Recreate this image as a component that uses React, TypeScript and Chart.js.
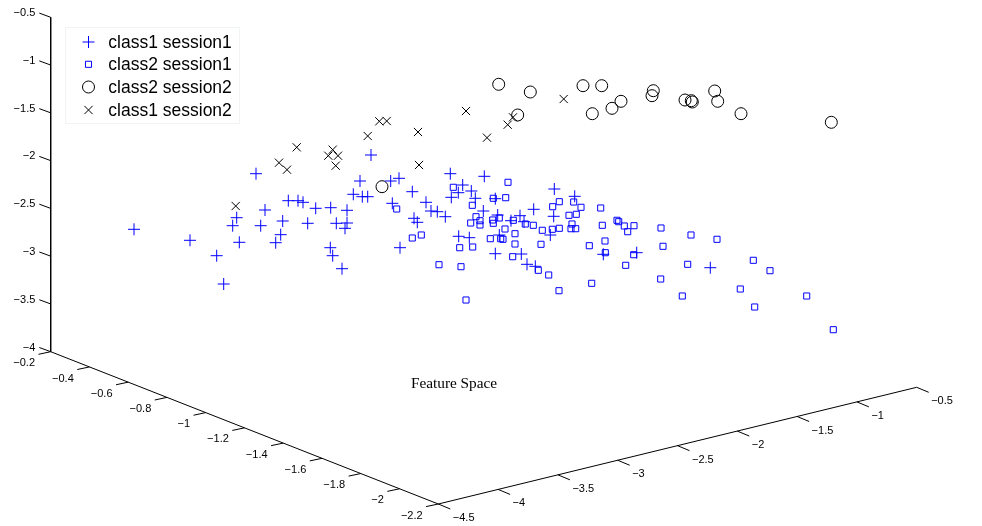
import React, { useEffect, useRef } from "react";
import { Chart, registerables } from "chart.js";
import { drawPoint } from "chart.js/helpers";

Chart.register(...registerables);

const class1Session1: number[][] = [
  [134, 229.3], [190, 240.3], [216.7, 255.7], [223.7, 284], [239.3, 242.3], [232.7, 225.7], [236.7, 217.7],
  [260.7, 225.7], [265, 210], [256, 173.7], [282.7, 221], [280.7, 234.7], [275.7, 242.7], [288.3, 200.7],
  [298, 200.7], [303, 202.3], [307.7, 223.3], [315.7, 208.3], [330.7, 207.7], [330.3, 247.7], [332.7, 255.7],
  [342, 268.7], [336.3, 223.3], [347, 210.3], [347, 223], [345, 228.3], [353.3, 194.3], [360, 181],
  [362.3, 196.7], [367.7, 196.7], [371, 155], [390.7, 181], [399, 178.3], [412.3, 191.7], [392.3, 203.3],
  [426, 202.3], [431, 211], [437.3, 211.7], [445.3, 216.7], [414, 218.3], [417.3, 222.3], [400, 247.7],
  [450.3, 173.7], [462.7, 185], [458.3, 192.7], [451.3, 197.3], [471.3, 191], [475.3, 198.3], [484.3, 176.3],
  [495.3, 198.7], [483.3, 211], [497.7, 215], [511, 220.7], [520, 215.7], [524, 221.7], [533.7, 209.3],
  [554.3, 189], [574.7, 196.3], [553.7, 216.3], [550.3, 235], [458.7, 236.3], [469.3, 237.7], [499.3, 235],
  [495.3, 253.7], [521.3, 254], [527, 264.3], [535.3, 266.3], [603.3, 254.3], [636.7, 252.7], [710.3, 267.7],
];
const class2Session1: number[][] = [
  [453.3, 187.3], [508, 182.3], [505.7, 197.7], [493.3, 198.3], [472.3, 205.3], [396.7, 209], [412.3, 238],
  [421.3, 235], [476, 216.7], [480, 220.7], [470.7, 223], [480, 225], [492.7, 220], [493.3, 223.3],
  [499.3, 218], [513.3, 220.3], [505, 229], [525.3, 224], [533.3, 225.3], [542.3, 230.3], [552.3, 229.3],
  [559.3, 228.3], [552.7, 206.7], [559.3, 201.7], [573.7, 202], [581, 207.3], [569, 215.3], [576.3, 214.3],
  [572, 224], [571, 228.7], [575.7, 228.7], [600.7, 208], [602.3, 225.3], [605, 241], [589.3, 245.7],
  [605.3, 252.7], [591.7, 283.3], [559, 290.7], [548.7, 275], [538.3, 270.3], [541, 244.3], [515, 233.7],
  [515, 244], [512.7, 256.7], [490.3, 238.7], [500.7, 238.7], [503, 239.3], [459.7, 247.7], [472.7, 247],
  [439, 264.7], [461, 266.7], [466, 300], [617, 220.3], [618.7, 221.7], [624.3, 226], [634, 225.7],
  [627.7, 231.7], [633.7, 254.7], [625.7, 265.3], [661, 228], [663, 246.3], [691, 235], [717, 239.3],
  [687.7, 264.3], [660.7, 279], [682.3, 296], [753.3, 260.3], [770, 270.7], [740.3, 289], [754.7, 307],
  [806.7, 296], [833.3, 329.7],
];
const class2Session2: number[][] = [
  [382, 186.7], [498.7, 84.3], [530.3, 92], [517.7, 115], [583, 85.7], [601.7, 85.7], [592.3, 113.7],
  [612, 108.3], [621, 101.3], [653.3, 90.7], [652, 95.7], [685, 100], [691.3, 100.7], [692.3, 102],
  [714.7, 91], [717.7, 101.3], [741, 113.7], [831.3, 122.3],
];
const class1Session2: number[][] = [
  [235.7, 206], [279, 162.7], [287, 169.7], [296.7, 147.3], [328.3, 155.7], [332.7, 149.7], [338, 155.7],
  [335.7, 165.7], [367.7, 136], [379.3, 121.3], [386.7, 121], [418, 132], [419, 165], [466, 111],
  [487, 137.7], [507.7, 124.7], [513, 117.3], [563.7, 99],
];

const seriesNames = ["class1 session1", "class2 session1", "class2 session2", "class1 session2"];
const seriesColors = ["#0000ff", "#0000ff", "#000000", "#000000"];
const seriesStyles = ["cross", "rect", "circle", "crossRot"];
const seriesRadii = [6, 4.3, 6, 5.8];

const zTickLabels = ["−0.5", "−1", "−1.5", "−2", "−2.5", "−3", "−3.5", "−4"];
const xTickLabels = ["−0.2", "−0.4", "−0.6", "−0.8", "−1", "−1.2", "−1.4", "−1.6", "−1.8", "−2", "−2.2"];
const yTickLabels = ["−4.5", "−4", "−3.5", "−3", "−2.5", "−2", "−1.5", "−1", "−0.5"];
const chartTitle = "Feature Space";

// Corners of the 3-D box in projection units
const zTop = [50.7, 17.3];
const backCorner = [50.7, 351.7];
const frontCorner = [438.3, 504];
const rightCorner = [916.7, 387.3];

const along = (a: number[], b: number[], i: number, n: number) => [
  a[0] + ((b[0] - a[0]) * i) / (n - 1),
  a[1] + ((b[1] - a[1]) * i) / (n - 1),
];

type Tick = { at: number[]; end: number[]; label: string };
const zTicks: Tick[] = zTickLabels.map((label, i) => {
  const at = along(zTop, backCorner, i, zTickLabels.length);
  return { at, end: [at[0] - 11.4, at[1] - 4.2], label };
});
const xTicks: Tick[] = xTickLabels.map((label, i) => {
  const at = along(backCorner, frontCorner, i, xTickLabels.length);
  return { at, end: [at[0] - 12.2, at[1] + 2.6], label };
});
const yTicks: Tick[] = yTickLabels.map((label, i) => {
  const at = along(frontCorner, rightCorner, i, yTickLabels.length);
  return { at, end: [at[0] + 12, at[1] + 5], label };
});

const gap = { x: NaN, y: NaN };
const pt = (p: number[]) => ({ x: p[0], y: p[1] });
const axisPoints = [
  pt(zTop), pt(backCorner), pt(frontCorner), pt(rightCorner), gap,
  ...[...zTicks, ...xTicks, ...yTicks].flatMap((t) => [pt(t.at), pt(t.end), gap]),
];

const textPlugin = {
  id: "viewText",
  afterDatasetsDraw(chart: any) {
    const { ctx } = chart;
    const sx = chart.scales.x;
    const sy = chart.scales.y;
    const px = (x: number) => sx.getPixelForValue(x);
    const py = (y: number) => sy.getPixelForValue(y);
    ctx.save();
    ctx.fillStyle = "#000";
    ctx.textBaseline = "middle";
    ctx.font = '11px "Liberation Sans"';
    ctx.textAlign = "right";
    zTicks.forEach((t) => ctx.fillText(t.label, px(t.end[0]) - 4, py(t.end[1])));
    xTicks.forEach((t) => ctx.fillText(t.label, px(t.end[0]) - 3.5, py(t.end[1]) + 9));
    ctx.textAlign = "left";
    yTicks.forEach((t) => ctx.fillText(t.label, px(t.end[0]) + 2.5, py(t.end[1]) + 9));
    ctx.font = '15.3px "Liberation Serif"';
    ctx.textAlign = "center";
    ctx.fillText(chartTitle, px(454), py(384));

    // legend box
    ctx.fillStyle = "#ffffff";
    ctx.strokeStyle = "#f0f4f4";
    ctx.lineWidth = 1;
    ctx.fillRect(65.5, 27.5, 174, 96);
    ctx.strokeRect(65.5, 27.5, 174, 96);
    const rows = [42, 64.3, 87, 110];
    seriesNames.forEach((name, i) => {
      ctx.strokeStyle = seriesColors[i];
      ctx.fillStyle = "rgba(0,0,0,0)";
      ctx.lineWidth = 1;
      drawPoint(ctx, { pointStyle: seriesStyles[i], radius: seriesRadii[i], rotation: 0, borderWidth: 1 }, 88.5, rows[i]);
      ctx.fillStyle = "#000";
      ctx.font = '17.5px "Liberation Sans"';
      ctx.textAlign = "left";
      ctx.textBaseline = "middle";
      ctx.fillText(name, 108.3, rows[i] + 1);
    });
    ctx.restore();
  },
};

export default function App() {
  const ref = useRef<HTMLCanvasElement>(null);
  useEffect(() => {
    const allSeries = [class1Session1, class2Session1, class2Session2, class1Session2];
    const chart = new Chart(ref.current!, {
      type: "scatter",
      data: {
        datasets: [
          ...allSeries.map((s, i) => ({
            label: seriesNames[i],
            data: s.map((p) => pt(p)),
            showLine: false,
            pointStyle: seriesStyles[i],
            pointRadius: seriesRadii[i],
            pointBorderWidth: 1,
            pointBorderColor: seriesColors[i],
            pointBackgroundColor: "rgba(0,0,0,0)",
          })),
          {
            label: "axes",
            data: axisPoints,
            showLine: true,
            spanGaps: false,
            borderColor: "#000000",
            borderWidth: 1,
            pointRadius: 0,
          },
        ],
      } as any,
      options: {
        animation: false,
        responsive: false,
        layout: { padding: 0, autoPadding: false },
        scales: {
          x: { type: "linear", min: 0, max: 982, display: false },
          y: { type: "linear", min: 0, max: 526, reverse: true, display: false },
        },
        plugins: { legend: { display: false }, title: { display: false }, tooltip: { enabled: false } },
      },
      plugins: [textPlugin],
    } as any);
    return () => chart.destroy();
  }, []);
  return (
    <div style={{ position: "fixed", left: 0, top: 0, width: 982, height: 526, background: "#fff" }}>
      <canvas ref={ref} width={982} height={526} style={{ display: "block" }} />
    </div>
  );
}
